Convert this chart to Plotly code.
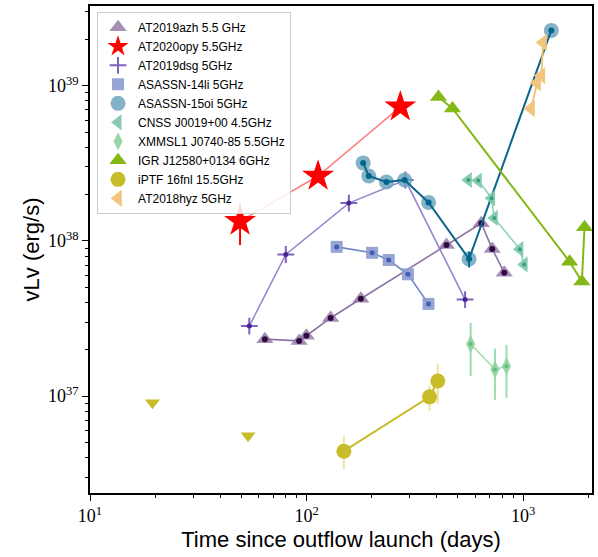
import plotly.graph_objects as go

# ---------------- data (days since outflow launch, nu L_nu in erg/s) ----------------
azh_t = [64.2, 92.4, 99.8, 129.2, 178.1, 442.6, 641.0, 720.0, 818.0]
azh_L = [2.33e37, 2.27e37, 2.45e37, 3.19e37, 4.24e37, 9.43e37, 1.30e38, 8.89e37, 6.25e37]

opy_t = [49.3, 113.0, 271.0]
opy_L = [1.34e38, 2.62e38, 7.32e38]
opy_eu = [4.0e37, 0, 0]
opy_ed = [4.0e37, 0, 0]

dsg_t = [54.4, 80.2, 156.8, 285.8, 539.5]
dsg_L = [2.83e37, 8.18e37, 1.754e38, 2.47e38, 4.19e37]

li14_t = [137.7, 200.7, 239.5, 293.8, 365.8]
li14_L = [9.16e37, 8.39e37, 7.54e37, 6.10e37, 3.93e37]

oi15_t = [182.5, 193.8, 233.8, 283.8, 365.8, 562.8, 1349.0]
oi15_L = [3.185e38, 2.62e38, 2.40e38, 2.47e38, 1.772e38, 7.65e37, 2.274e39]
oi15_e = [0, 0, 0, 0, 0, 9e36, 0]

cnss_t = [558.6, 621.0, 715.0, 735.6, 965.6, 1010.6]
cnss_L = [2.47e38, 2.45e38, 1.887e38, 1.407e38, 8.85e37, 7.06e37]

xmm_t = [572.3, 741.2, 837.9]
xmm_L = [2.166e37, 1.486e37, 1.56e37]
xmm_eu = [8.0e36, 5.4e36, 5.8e36]
xmm_ed = [8.2e36, 5.4e36, 5.85e36]

igr_t = [406.6, 471.7, 1639.0, 1867.0, 1921.0]
igr_L = [8.47e38, 7.14e38, 7.35e37, 5.48e37, 1.227e38]

ptf_t = [148.7, 369.7, 403.6]
ptf_L = [4.42e36, 9.90e36, 1.252e37]
ptf_eu = [1.09e36, 1.85e36, 3.7e36]
ptf_ed = [1.04e36, 1.84e36, 3.6e36]
ptf_ul_t = [19.43, 53.7]
ptf_ul_L = [9.06e36, 5.56e36]

hyz_t = [1088.0, 1160.0, 1214.0, 1236.0]
hyz_L = [7.14e38, 1.045e39, 1.163e39, 1.898e39]

x_tickvals = [10, 100, 1000]
x_ticktext = ["10<sup>1</sup>", "10<sup>2</sup>", "10<sup>3</sup>"]
y_tickvals = [1e37, 1e38, 1e39]
y_ticktext = ["10<sup>37</sup>", "10<sup>38</sup>", "10<sup>39</sup>"]

fig = go.Figure()


def add_line(x, y, color, width=1.6):
    fig.add_trace(go.Scatter(x=x, y=y, mode="lines", showlegend=False,
                             hoverinfo="skip",
                             line=dict(color=color, width=width)))


def add_dots(x, y, color, size=5, err=None):
    kw = {}
    if err is not None:
        kw["error_y"] = err
    fig.add_trace(go.Scatter(x=x, y=y, mode="markers", showlegend=False,
                             marker=dict(color=color, size=size), **kw))


def add_markers(x, y, name, symbol, size, color, opacity=1.0, line=None, err=None):
    kw = {}
    if err is not None:
        kw["error_y"] = err
    fig.add_trace(go.Scatter(x=x, y=y, mode="markers", name=name,
                             marker=dict(symbol=symbol, size=size, color=color,
                                         opacity=opacity,
                                         line=line or dict(width=0)), **kw))


# AT2019azh
add_line(azh_t, azh_L, "#8e74a4")
add_markers(azh_t, azh_L, "AT2019azh 5.5 GHz", "triangle-up", 15, "#8b6a9f", 0.75)
add_dots(azh_t, azh_L, "#2e0a40", 6)

# AT2020opy
add_line(opy_t, opy_L, "#ff8080")
add_markers(opy_t, opy_L, "AT2020opy 5.5GHz", "star", 24, "#ff0000", 1.0,
            err=dict(type="data", array=opy_eu, arrayminus=opy_ed, color="#ff0000",
                     thickness=2, width=0))

# AT2019dsg
add_line(dsg_t, dsg_L, "#9a86d0")
add_markers(dsg_t, dsg_L, "AT2019dsg 5GHz", "cross-thin", 12, "#7e62c0", 1.0,
            line=dict(width=2, color="#7e62c0"))
add_dots(dsg_t, dsg_L, "#4a2590", 5)

# ASASSN-14li
add_line(li14_t, li14_L, "#6f87c8")
add_markers(li14_t, li14_L, "ASASSN-14li 5GHz", "square", 12, "#8c9bd0", 0.9)
add_dots(li14_t, li14_L, "#3f5fb5", 5)

# ASASSN-15oi
add_markers(oi15_t, oi15_L, "ASASSN-15oi 5GHz", "circle", 15, "#6fa5bd", 0.85)
add_line(oi15_t, oi15_L, "#0a668c", 2)
add_dots(oi15_t, oi15_L, "#00668e", 6,
         err=dict(type="data", array=oi15_e, color="#0a668c", thickness=2, width=0))

# CNSS J0019+00
add_line(cnss_t, cnss_L, "#8fd3b8")
add_markers(cnss_t, cnss_L, "CNSS J0019+00 4.5GHz", "triangle-left", 14, "#7cc6a8", 0.9)
add_dots(cnss_t, cnss_L, "#3aa07a", 4)

# XMMSL1 J0740-85
add_line(xmm_t, xmm_L, "#9fdcac")
add_markers(xmm_t, xmm_L, "XMMSL1 J0740-85 5.5GHz", "diamond-tall", 13, "#8fd39f", 0.9,
            err=dict(type="data", array=xmm_eu, arrayminus=xmm_ed, color="#9fdcac",
                     thickness=2, width=0))
add_dots(xmm_t, xmm_L, "#5cbf78", 4)

# IGR J12580+0134
add_line(igr_t, igr_L, "#84b817", 2)
add_markers(igr_t, igr_L, "IGR J12580+0134 6GHz", "triangle-up", 15, "#84b817", 1.0)

# iPTF 16fnl
add_line(ptf_t, ptf_L, "#c8bc2b", 2)
add_markers(ptf_t, ptf_L, "iPTF 16fnl 15.5GHz", "circle", 15, "#c8bc2b", 1.0,
            err=dict(type="data", array=ptf_eu, arrayminus=ptf_ed, color="#ebe49c",
                     thickness=2, width=0))
fig.add_trace(go.Scatter(x=ptf_ul_t, y=ptf_ul_L, mode="markers", showlegend=False,
                         marker=dict(symbol="triangle-down", size=13, color="#c8bc2b")))

# AT2018hyz
add_line(hyz_t, hyz_L, "#f1c57d", 2)
add_markers(hyz_t, hyz_L, "AT2018hyz 5GHz", "triangle-left", 15, "#f1c57d", 1.0)

axis_common = dict(
    type="log", showgrid=False, zeroline=False,
    showline=True, linecolor="black", linewidth=1.6, mirror=True,
    ticks="outside", ticklen=6, tickwidth=1.2, tickcolor="black",
    tickmode="array",
    tickfont=dict(family="Liberation Serif", size=18, color="black"),
    minor=dict(ticks="outside", ticklen=3, tickwidth=1, tickcolor="black",
               dtick="D1", showgrid=False),
)

fig.update_xaxes(**axis_common, range=[1, 3.318],
                 tickvals=x_tickvals, ticktext=x_ticktext,
                 title=dict(text="Time since outflow launch (days)",
                            font=dict(family="Liberation Sans", size=22, color="black"),
                            standoff=6))
fig.update_yaxes(**axis_common, range=[36.376, 39.514],
                 tickvals=y_tickvals, ticktext=y_ticktext,
                 title=dict(text="vLv (erg/s)",
                            font=dict(family="Liberation Sans", size=22, color="black"),
                            standoff=2))

fig.update_layout(
    width=598, height=557,
    margin=dict(l=90, r=5, t=4, b=64),
    plot_bgcolor="white", paper_bgcolor="white",
    legend=dict(x=0.014, y=0.988, xanchor="left", yanchor="top",
                bgcolor="rgba(255,255,255,0.85)", bordercolor="#cccccc",
                borderwidth=1, font=dict(family="Liberation Sans", size=12, color="black"),
                tracegroupgap=0, itemsizing="trace"),
)

fig.write_html("out.html")
